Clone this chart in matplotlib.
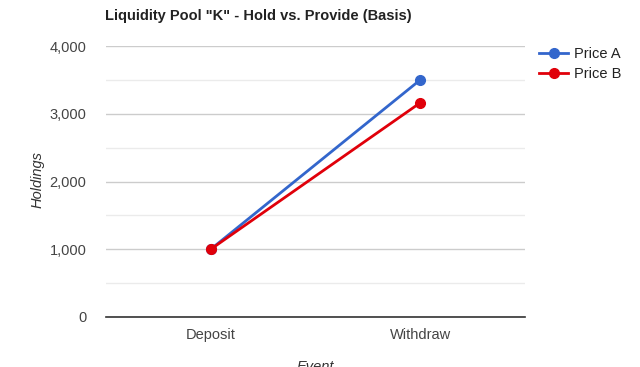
import matplotlib
matplotlib.use("Agg")
import matplotlib.pyplot as plt
from matplotlib.ticker import FuncFormatter, MultipleLocator

categories = ["Deposit", "Withdraw"]
price_a = [1000, 3500]
price_b = [1000, 3162]
series_names = ["Price A", "Price B"]

plt.rcParams['font.family'] = ['Liberation Sans', 'DejaVu Sans']

fig = plt.figure(figsize=(6.4, 3.67), dpi=100)
ax = fig.add_axes([106/640, 1-317/367, (525-106)/640, (317-46)/367])

x = list(range(len(categories)))
ax.plot(x, price_a, color='#3366cc', lw=2, marker='o', ms=7, label=series_names[0], zorder=3)
ax.plot(x, price_b, color='#e0000a', lw=2, marker='o', ms=7, label=series_names[1], zorder=4)

ax.set_xlim(-0.5, 1.5)
ax.set_ylim(0, 4000)
ax.set_xticks(x)
ax.set_xticklabels(categories)
ax.yaxis.set_major_locator(MultipleLocator(1000))
ax.yaxis.set_minor_locator(MultipleLocator(500))
ax.yaxis.set_major_formatter(FuncFormatter(lambda v, p: f"{int(v):,}"))
ax.grid(axis='y', which='major', color='#cccccc', lw=1)
ax.grid(axis='y', which='minor', color='#ebebeb', lw=1)
ax.set_axisbelow(True)
for s in ['top', 'right', 'left']:
    ax.spines[s].set_visible(False)
ax.spines['bottom'].set_color('#333333')
ax.spines['bottom'].set_linewidth(1.2)
ax.tick_params(axis='both', which='both', length=0, labelsize=10.5, colors='#444444')
ax.tick_params(axis='y', pad=14)
ax.tick_params(axis='x', pad=8)

fig.text(38/640, 1-180/367, "Holdings", fontstyle='italic', fontsize=10.5, color='#333333',
         rotation=90, ha='center', va='center')
fig.text(315/640, 1-360/367, "Event", fontstyle='italic', fontsize=10.5, color='#333333',
         ha='center', va='top')

fig.text(105/640, 1-16/367, 'Liquidity Pool "K" - Hold vs. Provide (Basis)',
         fontsize=10.5, fontweight='bold', color='#222222', va='center', ha='left')

ax.legend(loc='upper left', bbox_to_anchor=(532/640, 1-40/367), bbox_transform=fig.transFigure,
          frameon=False, fontsize=10.5, handlelength=2.0, handletextpad=0.4,
          labelspacing=0.4, borderpad=0, labelcolor='#222222')

fig.savefig("out.png", dpi=100)
